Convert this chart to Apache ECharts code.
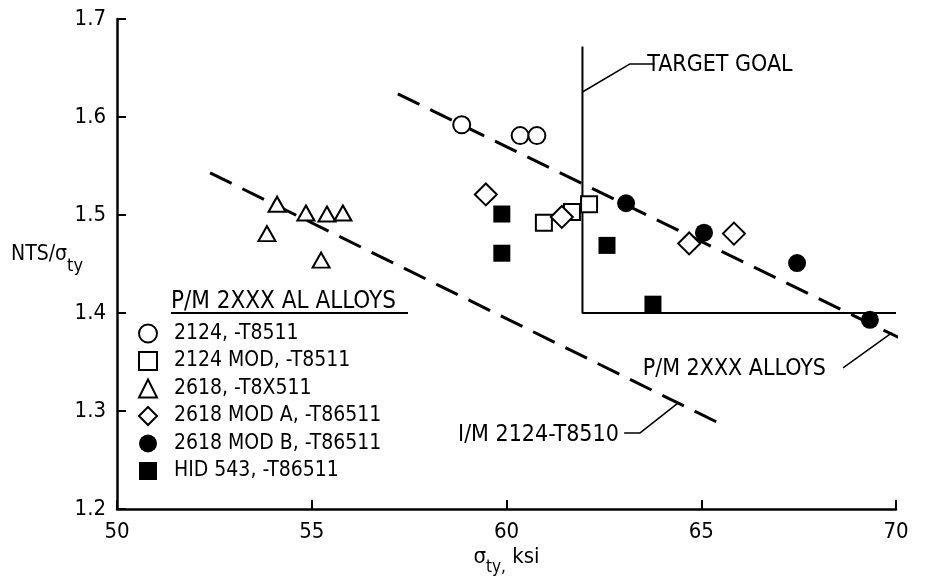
<!DOCTYPE html>
<html><head><meta charset="utf-8">
<script src="https://cdn.jsdelivr.net/npm/echarts@6/dist/echarts.min.js"></script>
<style>html,body{margin:0;padding:0;background:#fff}#c{width:935px;height:581px}</style>
</head><body><div id="c"></div>
<script>
// ---- data ----
const xTicks = [50, 55, 60, 65, 70];
const yTicks = [1.2, 1.3, 1.4, 1.5, 1.6, 1.7];
const seriesNames = ['2124, -T8511', '2124 MOD, -T8511', '2618, -T8X511', '2618 MOD A, -T86511', '2618 MOD B, -T86511', 'HID 543, -T86511'];
const alloy2124 = [[58.85, 1.592], [60.35, 1.581], [60.78, 1.581]];
const alloy2124Mod = [[60.96, 1.492], [61.68, 1.503], [62.12, 1.511]];
const alloy2618 = [[53.85, 1.481], [54.11, 1.511], [54.85, 1.502], [55.39, 1.501], [55.80, 1.502], [55.24, 1.454]];
const alloy2618ModA = [[59.47, 1.521], [61.42, 1.498], [64.69, 1.471], [65.84, 1.481]];
const alloy2618ModB = [[63.07, 1.512], [65.07, 1.482], [67.46, 1.451], [69.33, 1.393]];
const hid543 = [[59.88, 1.501], [59.88, 1.461], [62.58, 1.469], [63.76, 1.409]];
const pmFitLine = [[57.21, 1.6235], [71.0, 1.357]];
const imFitLine = [[52.39, 1.543], [65.64, 1.284]];
const targetGoalBox = [[61.95, 1.672], [61.95, 1.40], [70, 1.40]];
const targetLeader = [[61.95, 1.6255], [63.16, 1.654], [63.8, 1.654]];
const pmLeader = [[68.64, 1.344], [69.9, 1.380]];
const imLeader = [[63.02, 1.2776], [63.43, 1.2776], [64.40, 1.308]];
const annotationTexts = ['TARGET GOAL', 'P/M 2XXX ALLOYS', 'I/M 2124-T8510'];
const annotationPos = [[65.48, 1.653], [65.85, 1.343], [60.82, 1.2755]];
const legendTitle = 'P/M 2XXX AL ALLOYS';

// ---- chart ----
const FONT = "'DejaVu Sans Condensed', 'DejaVu Sans', sans-serif";
const chart = echarts.init(document.getElementById('c'), null, {renderer: 'canvas'});

function openSym(name, data, symbol, size) {
  return {name, type: 'scatter', data, symbol, symbolSize: size, z: 5,
    itemStyle: {color: '#fff', borderColor: '#000', borderWidth: 2, opacity: 1}};
}
function fillSym(name, data, symbol, size) {
  return {name, type: 'scatter', data, symbol, symbolSize: size, z: 5,
    itemStyle: {color: '#000', borderColor: '#000', borderWidth: 0, opacity: 1}};
}
function plainLine(data, width, dash) {
  return {type: 'line', data, symbol: 'none', silent: true, clip: false, z: 3,
    lineStyle: {color: '#000', width, type: dash ? [24, 12] : 'solid'}};
}

const option = {
  backgroundColor: '#fff',
  animation: false,
  textStyle: {fontFamily: FONT, color: '#000'},
  grid: {left: 117, right: 39, top: 19, bottom: 72, outerBoundsMode: 'none'},
  xAxis: {
    type: 'value', min: xTicks[0], max: xTicks[xTicks.length - 1], interval: 5,
    axisLine: {lineStyle: {color: '#000', width: 2.5}},
    axisTick: {inside: true, length: 9, lineStyle: {color: '#000', width: 2}},
    axisLabel: {fontFamily: FONT, fontSize: 22, color: '#000', margin: 12},
    splitLine: {show: false},
    name: '{b|σ}{s|ty,}{b| ksi}', nameLocation: 'middle', nameGap: 36, nameMoveOverlap: false,
    nameTextStyle: {rich: {
      b: {fontFamily: FONT, fontSize: 22, lineHeight: 24, color: '#000'},
      s: {fontFamily: FONT, fontSize: 17, lineHeight: 20, padding: [22, 0, 0, 0], color: '#000'}
    }}
  },
  yAxis: {
    type: 'value', min: yTicks[0], max: yTicks[yTicks.length - 1], interval: 0.1,
    axisLine: {lineStyle: {color: '#000', width: 2.5}},
    axisTick: {inside: true, length: 9, lineStyle: {color: '#000', width: 2}},
    axisLabel: {fontFamily: FONT, fontSize: 22, color: '#000', margin: 11, formatter: v => v.toFixed(1)},
    splitLine: {show: false},
    name: '{b|NTS/σ}{s|ty}', nameLocation: 'middle', nameRotate: 0, nameGap: 34, nameMoveOverlap: false,
    nameTextStyle: {padding: [0, 0, 18, 0], rich: {
      b: {fontFamily: FONT, fontSize: 21, lineHeight: 24, color: '#000'},
      s: {fontFamily: FONT, fontSize: 18, lineHeight: 20, padding: [22, 0, 0, 0], color: '#000'}
    }}
  },
  title: {text: legendTitle, left: 171, top: 290, padding: 0,
    textStyle: {fontFamily: FONT, fontSize: 24, fontWeight: 'normal', color: '#000'}},
  legend: {
    data: seriesNames, orient: 'vertical', left: 138, top: 323, padding: 0,
    itemWidth: 18, itemHeight: 18, itemGap: 6.5,
    formatter: n => '  ' + n,
    textStyle: {fontFamily: FONT, fontSize: 21, color: '#000'},
    selectedMode: false
  },
  series: [
    plainLine(pmFitLine, 3, true),
    plainLine(imFitLine, 3, true),
    plainLine(targetGoalBox, 2, false),
    plainLine(targetLeader, 1.5, false),
    plainLine(pmLeader, 1.5, false),
    plainLine(imLeader, 1.5, false),
    openSym(seriesNames[0], alloy2124, 'circle', 17),
    openSym(seriesNames[1], alloy2124Mod, 'rect', 16),
    openSym(seriesNames[2], alloy2618, 'triangle', [17, 15]),
    openSym(seriesNames[3], alloy2618ModA, 'diamond', 22),
    fillSym(seriesNames[4], alloy2618ModB, 'circle', 18),
    fillSym(seriesNames[5], hid543, 'rect', 17),
    {type: 'scatter', silent: true, symbolSize: 0, z: 6,
     itemStyle: {opacity: 1, color: '#000'},
     data: annotationPos.map((p, i) => ({value: p, name: annotationTexts[i]})),
     label: {show: true, position: 'inside', formatter: p => p.name, opacity: 1,
       fontFamily: FONT, fontSize: 23, color: '#000', textBorderWidth: 0}}
  ],
  graphic: [{type: 'line', shape: {x1: 171, y1: 313, x2: 408, y2: 313}, style: {stroke: '#000', lineWidth: 2}}]
};
chart.setOption(option);
</script></body></html>
